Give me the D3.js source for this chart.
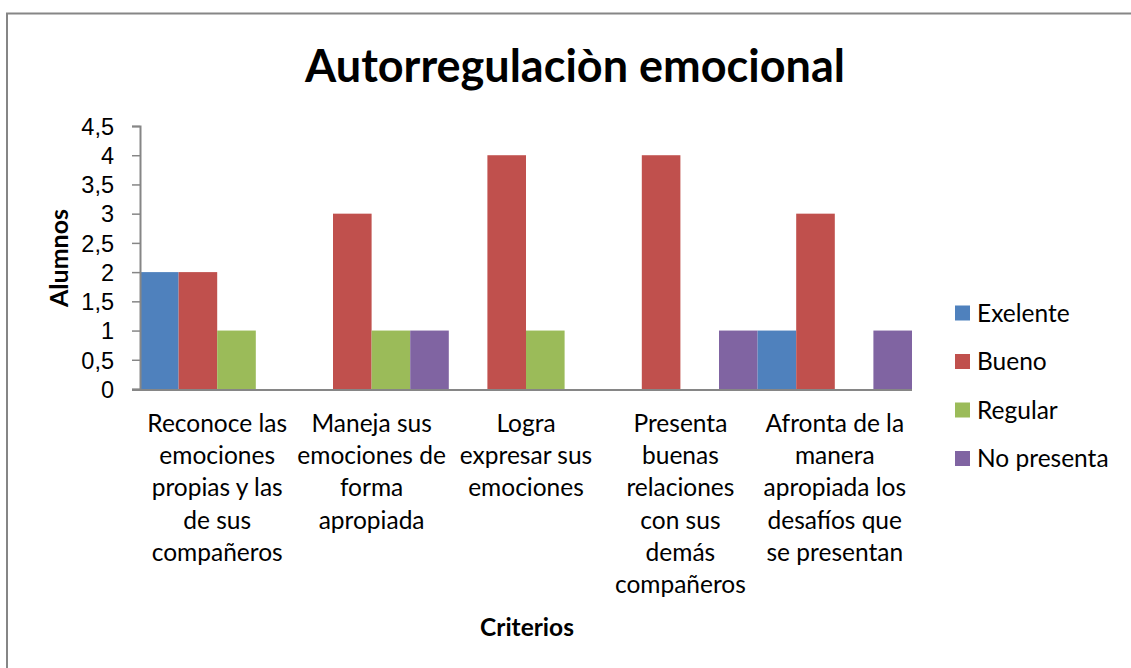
<!DOCTYPE html>
<html>
<head>
<meta charset="utf-8">
<script src="https://cdn.jsdelivr.net/npm/d3@7/dist/d3.min.js"></script>
<style>
  body { margin: 0; background: #fff; }
  svg { font-family: Lato, "Open Sans", sans-serif; }
</style>
</head>
<body>
<div id="chart"></div>
<script>
// ============= Data =============
const categories = [
  ["Reconoce las", "emociones", "propias y las", "de sus", "compañeros"],
  ["Maneja sus", "emociones de", "forma", "apropiada"],
  ["Logra", "expresar sus", "emociones"],
  ["Presenta", "buenas", "relaciones", "con sus", "demás", "compañeros"],
  ["Afronta de la", "manera", "apropiada los", "desafíos que", "se presentan"]
];
const seriesNames = ["Exelente", "Bueno", "Regular", "No presenta"];
const exelente = [2, 0, 0, 0, 1];
const bueno = [2, 3, 4, 4, 3];
const regular = [1, 1, 1, 0, 0];
const noPresenta = [0, 1, 0, 1, 1];
const yTicks = [0, 0.5, 1, 1.5, 2, 2.5, 3, 3.5, 4, 4.5];
const colors = ["#4F81BD", "#C0504D", "#9BBB59", "#8064A2"];

const seriesValues = [exelente, bueno, regular, noPresenta];
const rows = categories.map((c, i) => ({
  key: i,
  lines: c,
  values: seriesNames.map((s, j) => ({ series: s, value: seriesValues[j][i] }))
}));

const width = 1131;
const height = 668;
const margin = { top: 126, right: 219, bottom: 279, left: 140 };

const svg = d3.select("#chart")
  .append("svg")
  .attr("width", width)
  .attr("height", height);

// outer chart border
svg.append("rect")
  .attr("x", 7)
  .attr("y", 13.5)
  .attr("width", 1140)
  .attr("height", 700)
  .attr("fill", "none")
  .attr("stroke", "#868686")
  .attr("stroke-width", 2);

// ============= Scales =============
const x = d3.scaleBand()
  .domain(rows.map(d => d.key))
  .range([margin.left, width - margin.right])
  .padding(0);

const xInner = d3.scaleBand()
  .domain(seriesNames)
  .range([0, x.bandwidth()])
  .padding(0);

const y = d3.scaleLinear()
  .domain([0, 4.5])
  .range([height - margin.bottom, margin.top]);

const color = d3.scaleOrdinal().domain(seriesNames).range(colors);

// ============= Bars =============
svg.append("g")
  .selectAll("g")
  .data(rows)
  .join("g")
  .attr("transform", d => `translate(${x(d.key)},0)`)
  .selectAll("rect")
  .data(d => d.values)
  .join("rect")
  .attr("x", d => xInner(d.series))
  .attr("width", xInner.bandwidth())
  .attr("y", d => y(d.value))
  .attr("height", d => y(0) - y(d.value))
  .attr("fill", d => color(d.series));

// ============= Axes =============
const fmt = d => String(d).replace(".", ",");

const yAxis = svg.append("g")
  .attr("transform", `translate(${margin.left},0)`)
  .call(d3.axisLeft(y).tickValues(yTicks).tickFormat(fmt).tickSize(8).tickPadding(18));
yAxis.select(".domain").attr("stroke", "#868686").attr("stroke-width", 2);
yAxis.selectAll(".tick line").attr("stroke", "#868686").attr("stroke-width", 1.5);
yAxis.selectAll(".tick text")
  .attr("fill", "#000")
  .style("font-size", "23.5px")
  .attr("dy", "0.35em");

svg.append("line")
  .attr("x1", margin.left - 8)
  .attr("x2", width - margin.right)
  .attr("y1", y(0) + 1)
  .attr("y2", y(0) + 1)
  .attr("stroke", "#868686")
  .attr("stroke-width", 2);

// category labels
const labels = svg.append("g")
  .selectAll("text")
  .data(rows)
  .join("text")
  .attr("text-anchor", "middle")
  .attr("fill", "#000")
  .style("font-size", "24.5px")
  .attr("x", d => x(d.key) + x.bandwidth() / 2)
  .attr("y", 432);

labels.selectAll("tspan")
  .data(d => d.lines)
  .join("tspan")
  .attr("x", function () { return d3.select(this.parentNode).attr("x"); })
  .attr("dy", (d, i) => i === 0 ? 0 : 32.2)
  .text(d => d);

// ============= Titles =============
svg.append("text")
  .attr("x", 575)
  .attr("y", 82)
  .attr("text-anchor", "middle")
  .style("font-size", "45px")
  .style("font-weight", "bold")
  .text("Autorregulaciòn emocional");

svg.append("text")
  .attr("transform", `translate(68,258) rotate(-90)`)
  .attr("text-anchor", "middle")
  .style("font-size", "25px")
  .style("font-weight", "bold")
  .text("Alumnos");

svg.append("text")
  .attr("x", 527)
  .attr("y", 636)
  .attr("text-anchor", "middle")
  .style("font-size", "24.5px")
  .style("font-weight", "bold")
  .text("Criterios");

// ============= Legend =============
const legend = svg.append("g")
  .selectAll("g")
  .data(seriesNames)
  .join("g")
  .attr("transform", (d, i) => `translate(955,${313 + i * 48.5})`);

legend.append("rect")
  .attr("x", 0)
  .attr("y", -7.5)
  .attr("width", 15)
  .attr("height", 15)
  .attr("fill", d => color(d));

legend.append("text")
  .attr("x", 22)
  .attr("dy", "0.35em")
  .style("font-size", "24.5px")
  .text(d => d);
</script>
</body>
</html>
